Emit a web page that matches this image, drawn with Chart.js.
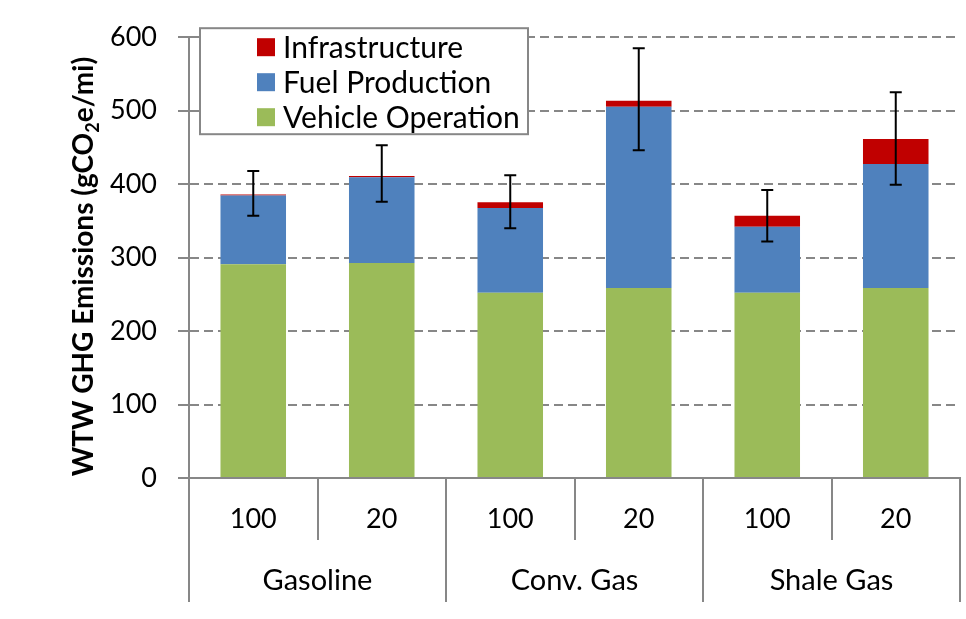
<!DOCTYPE html>
<html>
<head>
<meta charset="utf-8">
<script src="https://cdn.jsdelivr.net/npm/chart.js@4.4.1/dist/chart.umd.min.js"></script>
<style>
  html, body { margin: 0; padding: 0; background: #fff; }
  canvas { display: block; }
</style>
</head>
<body>
<canvas id="ghgChart" width="966" height="619"></canvas>
<script>
// fuel groups and GWP time horizons
const groups = ['Gasoline', 'Conv. Gas', 'Shale Gas'];
const horizons = ['100', '20', '100', '20', '100', '20'];

// stacked components (gCO2e/mi)
const vehicleOperation = [291, 292.5, 252, 258.5, 252, 258.5];
const fuelProduction = [93.5, 117, 115.5, 247, 90, 169];
const infrastructure = [1.5, 1.5, 8, 8, 15, 34];

// uncertainty range of the totals
const errorLow = [357, 376, 340, 446, 322, 399];
const errorHigh = [418, 453, 412, 585, 392, 525];

const yTicks = [0, 100, 200, 300, 400, 500, 600];

const gridGray = '#878787';
const font = 'Lato';

// error bars drawn on top of the stacks
const errorBarPlugin = {
  id: 'errorBars',
  afterDatasetsDraw(chart) {
    const { ctx, scales: { y } } = chart;
    const meta = chart.getDatasetMeta(0);
    ctx.save();
    ctx.strokeStyle = '#000';
    ctx.lineWidth = 2;
    meta.data.forEach((bar, i) => {
      const yLo = y.getPixelForValue(errorLow[i]);
      const yHi = y.getPixelForValue(errorHigh[i]);
      ctx.beginPath();
      ctx.moveTo(bar.x, yLo);
      ctx.lineTo(bar.x, yHi);
      ctx.moveTo(bar.x - 6, yLo);
      ctx.lineTo(bar.x + 6, yLo);
      ctx.moveTo(bar.x - 6, yHi);
      ctx.lineTo(bar.x + 6, yHi);
      ctx.stroke();
    });
    ctx.restore();
  }
};

// boxed legend sitting inside the plot area, top-left
const boxLegendPlugin = {
  id: 'boxLegend',
  afterDatasetsDraw(chart) {
    const { ctx, chartArea } = chart;
    const left = chartArea.left + 11;
    const top = chartArea.top - 9;
    const w = 328, h = 106;
    ctx.save();
    ctx.fillStyle = '#fff';
    ctx.fillRect(left, top, w, h);
    ctx.strokeStyle = gridGray;
    ctx.lineWidth = 2;
    ctx.strokeRect(left, top, w, h);
    ctx.font = '30px ' + font;
    ctx.textBaseline = 'middle';
    const items = chart.data.datasets.slice().reverse();
    items.forEach((ds, i) => {
      const cy = top + 19 + i * 35;
      ctx.fillStyle = ds.backgroundColor;
      ctx.fillRect(left + 57, cy - 9, 18, 18);
      ctx.fillStyle = '#000';
      ctx.fillText(ds.label, left + 83, cy + 1);
    });
    ctx.restore();
  }
};

// rotated y axis title with subscript 2
const yTitlePlugin = {
  id: 'yTitle',
  afterDraw(chart) {
    const { ctx, chartArea } = chart;
    const parts = [
      { t: 'WTW GHG Emissions (gCO', sub: false },
      { t: '2', sub: true },
      { t: 'e/mi)', sub: false }
    ];
    const size = 28;
    const mainFont = 'bold ' + size + 'px ' + font;
    const subFont = 'bold ' + Math.round(size * 0.65) + 'px ' + font;
    ctx.save();
    let total = 0;
    parts.forEach(p => {
      ctx.font = p.sub ? subFont : mainFont;
      p.w = ctx.measureText(p.t).width;
      total += p.w;
    });
    const cy = (chartArea.top + chartArea.bottom) / 2 + 9;
    ctx.translate(93, cy);
    ctx.rotate(-Math.PI / 2);
    ctx.fillStyle = '#000';
    ctx.textBaseline = 'alphabetic';
    let x = -total / 2;
    parts.forEach(p => {
      ctx.font = p.sub ? subFont : mainFont;
      ctx.fillText(p.t, x, p.sub ? size * 0.22 : 0);
      x += p.w;
    });
    ctx.restore();
  }
};

new Chart(document.getElementById('ghgChart'), {
  type: 'bar',
  data: {
    labels: horizons,
    datasets: [
      { label: 'Vehicle Operation', data: vehicleOperation, backgroundColor: '#9BBB59' },
      { label: 'Fuel Production', data: fuelProduction, backgroundColor: '#4F81BD' },
      { label: 'Infrastructure', data: infrastructure, backgroundColor: '#C00000' }
    ]
  },
  options: {
    responsive: false,
    animation: false,
    devicePixelRatio: 1,
    layout: { padding: { left: 0, right: 6, top: 37, bottom: 17 } },
    datasets: { bar: { barPercentage: 0.51, categoryPercentage: 1, borderWidth: 0 } },
    plugins: {
      legend: { display: false },
      tooltip: { enabled: false }
    },
    scales: {
      x: {
        stacked: true,
        weight: 0,
        offset: true,
        grid: { drawOnChartArea: false, offset: true, tickLength: 62, color: gridGray, lineWidth: 2 },
        border: { display: true, color: gridGray, width: 2 },
        ticks: { color: '#000', font: { family: font, size: 27 }, padding: -37, maxRotation: 0, autoSkip: false },
        afterFit(scale) { scale.height = 62; }
      },
      x2: {
        type: 'category',
        position: 'bottom',
        labels: groups,
        weight: 1,
        offset: true,
        grid: { drawOnChartArea: false, offset: true, tickLength: 62, color: gridGray, lineWidth: 2 },
        border: { display: false },
        ticks: { color: '#000', font: { family: font, size: 29 }, padding: -39, maxRotation: 0, autoSkip: false },
        afterFit(scale) { scale.height = 62; }
      },
      y: {
        stacked: true,
        min: 0,
        max: 600,
        afterBuildTicks(scale) { scale.ticks = yTicks.map(v => ({ value: v })); },
        grid: { color: gridGray, lineWidth: 2, tickLength: 11, drawTicks: true },
        border: { display: true, color: gridGray, width: 2, dash: [9, 5] },
        ticks: { color: '#000', font: { family: font, size: 27 }, padding: 21 },
        afterFit(scale) { scale.width = 189; }
      }
    }
  },
  plugins: [errorBarPlugin, boxLegendPlugin, yTitlePlugin]
});
</script>
</body>
</html>
